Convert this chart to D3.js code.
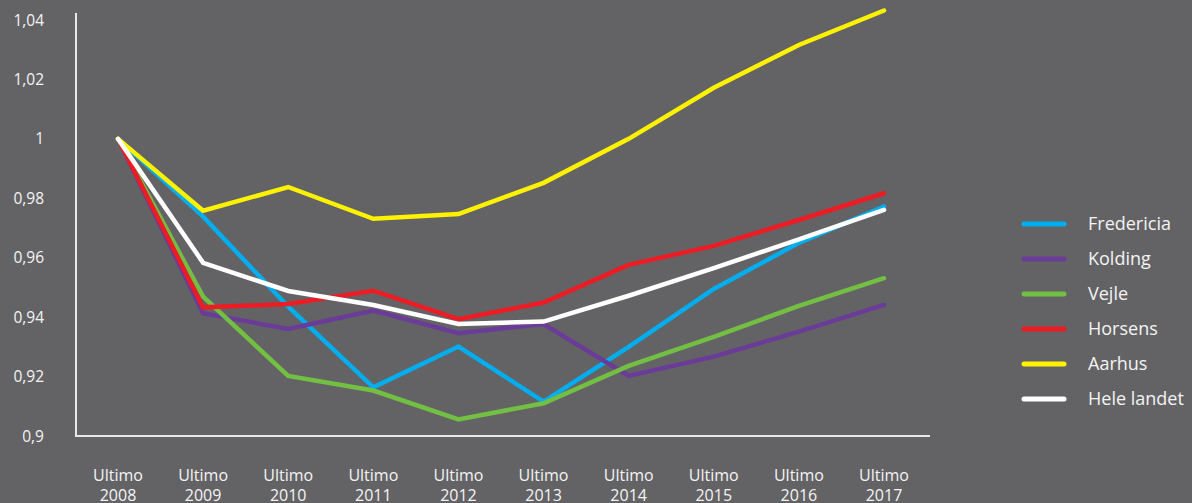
<!DOCTYPE html>
<html>
<head>
<meta charset="utf-8">
<script src="https://cdn.jsdelivr.net/npm/d3@7"></script>
<style>
  html, body { margin: 0; padding: 0; background: #636365; }
  svg { display: block; }
  text { font-family: "Open Sans", "Noto Sans", sans-serif; fill: #f4f4f4; }
</style>
</head>
<body>
<svg id="chart" width="1192" height="503"></svg>
<script>
const years = ["2008","2009","2010","2011","2012","2013","2014","2015","2016","2017"];
const xPrefix = "Ultimo";
const yTicks = [0.9, 0.92, 0.94, 0.96, 0.98, 1, 1.02, 1.04];

const fredericia = [1.0, 0.9738, 0.9435, 0.9164, 0.9301, 0.9116, 0.9300, 0.9495, 0.9650, 0.9772];
const kolding    = [1.0, 0.9413, 0.9360, 0.9422, 0.9346, 0.9377, 0.9202, 0.9267, 0.9351, 0.9441];
const vejle      = [1.0, 0.9469, 0.9202, 0.9153, 0.9056, 0.9110, 0.9236, 0.9334, 0.9438, 0.9531];
const horsens    = [1.0, 0.9433, 0.9444, 0.9489, 0.9393, 0.9449, 0.9576, 0.9640, 0.9727, 0.9817];
const aarhus     = [1.0, 0.9758, 0.9838, 0.9731, 0.9747, 0.9852, 1.0000, 1.0172, 1.0316, 1.0432];
const heleLandet = [1.0, 0.9583, 0.9488, 0.9441, 0.9377, 0.9385, 0.9472, 0.9565, 0.9662, 0.9761];

const seriesNames = ["Fredericia", "Kolding", "Vejle", "Horsens", "Aarhus", "Hele landet"];
const seriesValues = [fredericia, kolding, vejle, horsens, aarhus, heleLandet];
const seriesColors = ["#00aeef", "#6a3b98", "#73bf44", "#ed1c24", "#fff200", "#ffffff"];

(function () {
const svg = d3.select("#chart");
const mLeft = 76, mRight = 930, mTop = 20, mBottom = 436;

const x = d3.scalePoint().domain(years).range([118, 884]);
const y = d3.scaleLinear().domain([0.9, 1.04]).range([mBottom, mTop]);

// y tick labels
svg.append("g").selectAll("text").data(yTicks).join("text")
  .attr("x", 44).attr("y", d => y(d)).attr("dy", "0.36em")
  .attr("text-anchor", "end").attr("font-size", 15.5)
  .text(d => d3.format(".2~f")(d).replace(".", ","));

// x labels
const xl = svg.append("g").selectAll("text").data(years).join("text")
  .attr("text-anchor", "middle").attr("font-size", 16)
  .attr("x", d => x(d));
xl.append("tspan").attr("x", d => x(d)).attr("y", 481).text(xPrefix);
xl.append("tspan").attr("x", d => x(d)).attr("y", 501).text(d => d);

// axes lines
svg.append("line").attr("x1", mLeft).attr("x2", mLeft).attr("y1", 13).attr("y2", mBottom)
  .attr("stroke", "#e8e8e8").attr("stroke-width", 2);
svg.append("line").attr("x1", mLeft - 1).attr("x2", mRight).attr("y1", mBottom).attr("y2", mBottom)
  .attr("stroke", "#e8e8e8").attr("stroke-width", 2);

// lines
const line = d3.line().x((d, i) => x(years[i])).y(d => y(d));
svg.append("g").selectAll("path").data(seriesValues).join("path")
  .attr("d", d => line(d))
  .attr("fill", "none")
  .attr("stroke", (d, i) => seriesColors[i])
  .attr("stroke-width", 4.5)
  .attr("stroke-linejoin", "miter")
  .attr("stroke-linecap", "round");

// legend
const lg = svg.append("g").selectAll("g").data(seriesNames).join("g")
  .attr("transform", (d, i) => `translate(0, ${224 + i * 35})`);
lg.append("line").attr("x1", 1024).attr("x2", 1064).attr("y1", 0).attr("y2", 0)
  .attr("stroke", (d, i) => seriesColors[i]).attr("stroke-width", 5).attr("stroke-linecap", "round");
lg.append("text").attr("x", 1088).attr("y", 0).attr("dy", "0.36em")
  .attr("font-size", 18).text(d => d);
})();
</script>
</body>
</html>
